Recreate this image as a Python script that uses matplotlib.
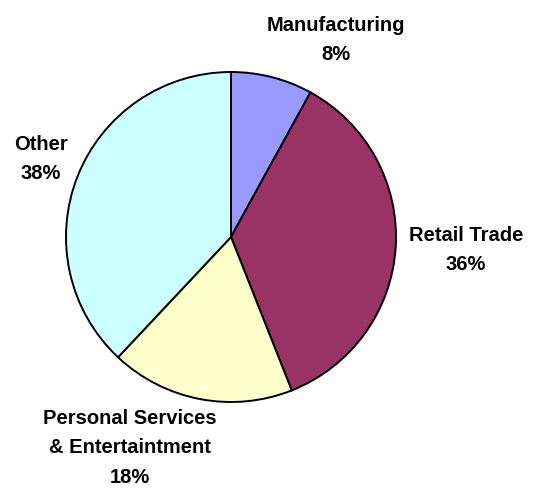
import matplotlib
matplotlib.use("Agg")
import matplotlib.pyplot as plt

sectors = ["Manufacturing", "Retail Trade", "Personal Services\n& Entertaintment", "Other"]
shares = [8, 36, 18, 38]
colors = ["#9999FF", "#993366", "#FFFFCC", "#CCFFFF"]

# label anchor points (pixel layout, y measured from bottom)
label_pos = [(336, 449), (466, 239), (130, 41), (41, 330)]

plt.rcParams["font.family"] = ["Liberation Sans", "DejaVu Sans"]

fig = plt.figure(figsize=(5.33, 4.89), dpi=100)
ax = fig.add_axes([0, 0, 1, 1])
ax.set_xlim(0, 533)
ax.set_ylim(0, 489)
ax.set_aspect("equal")
ax.axis("off")

ax.pie(shares, colors=colors, startangle=90, counterclock=False,
       center=(231, 251), radius=165,
       wedgeprops=dict(edgecolor="black", linewidth=1.4))

for name, val, (x, y) in zip(sectors, shares, label_pos):
    ax.text(x, y, f"{name}\n{val}%", ha="center", va="center",
            fontsize=14.5, fontweight="bold", linespacing=1.72)

ax.set_xlim(0, 533)
ax.set_ylim(0, 489)
fig.savefig("out.png", dpi=100)
